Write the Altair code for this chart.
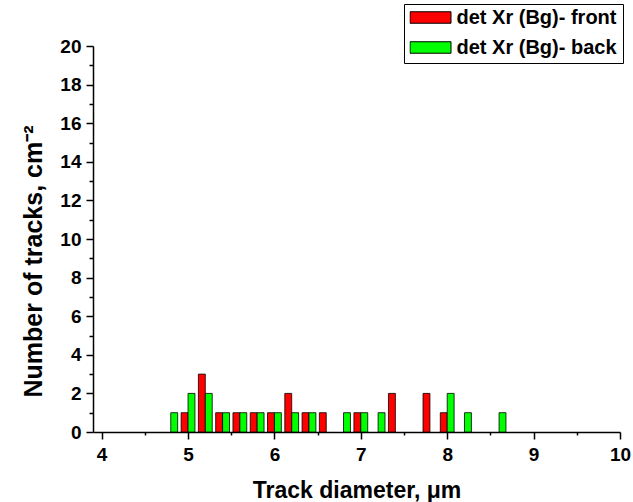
import altair as alt
import pandas as pd

FRONT = "det Xr (Bg)- front"
BACK = "det Xr (Bg)- back"

# Histogram bins (track diameter, µm) and counts per side of the detector
front_diam = [5.0, 5.2, 5.4, 5.6, 5.8, 6.0, 6.2, 6.4, 6.6, 7.0, 7.4, 7.8, 8.0]
front_count = [1, 3, 1, 1, 1, 1, 2, 1, 1, 1, 2, 2, 1]
back_diam = [4.8, 5.0, 5.2, 5.4, 5.6, 5.8, 6.0, 6.2, 6.4, 6.8, 7.0, 7.2, 8.0, 8.2, 8.6]
back_count = [1, 2, 2, 1, 1, 1, 1, 1, 1, 1, 1, 1, 2, 1, 1]

# Axis tick values
x_major = [4, 5, 6, 7, 8, 9, 10]
x_minor = [4.5, 5.5, 6.5, 7.5, 8.5, 9.5]
y_major = [0, 2, 4, 6, 8, 10, 12, 14, 16, 18, 20]
y_minor = [1, 3, 5, 7, 9, 11, 13, 15, 17, 19]

df = pd.DataFrame({
    "diameter": front_diam + back_diam,
    "count": front_count + back_count,
    "series": [FRONT] * len(front_diam) + [BACK] * len(back_diam),
})

BAR_W = 0.08  # each series' bar sits on one side of the bin centre
FONT = "Liberation Sans"

base = alt.Chart(df).transform_calculate(
    x0=f"datum.series == '{FRONT}' ? datum.diameter - {BAR_W} : datum.diameter",
    x1=f"datum.series == '{FRONT}' ? datum.diameter : datum.diameter + {BAR_W}",
)

xscale = alt.Scale(domain=[3.9, 10], nice=False, zero=False)
yscale = alt.Scale(domain=[0, 20], nice=False)

bars = base.mark_bar(stroke="black", strokeWidth=0.8).encode(
    x=alt.X("x0:Q", scale=xscale,
            axis=alt.Axis(values=x_major, orient="bottom", format="d",
                          title="Track diameter, μm", titleFontSize=23,
                          tickSize=7, labelPadding=6, titlePadding=15,
                          labelFlush=False)),
    x2="x1:Q",
    y=alt.Y("count:Q", scale=yscale,
            axis=alt.Axis(values=y_major, orient="left", format="d",
                          title="Number of tracks, cm⁻²", titleFontSize=25,
                          titleY=215, tickSize=7, labelPadding=5,
                          titlePadding=13, labelFlush=False)),
    y2=alt.datum(0),
    color=alt.Color(
        "series:N",
        scale=alt.Scale(domain=[FRONT, BACK], range=["#FF0000", "#00FF00"]),
        legend=alt.Legend(
            title=None, orient="none", legendX=311, legendY=-42,
            symbolType="M-1,-0.28H1V0.28H-1Z", symbolSize=1681,
            symbolStrokeColor="black", symbolStrokeWidth=1, symbolOpacity=1,
            clipHeight=16, rowPadding=10, labelOffset=5, labelLimit=300,
            labelFont=FONT, labelFontSize=20, labelFontWeight="bold",
            labelColor="black", strokeColor="black", fillColor="white",
            padding=5.5,
        ),
    ),
)

# Invisible copy of the bars that carries the minor tick axes
minor = base.mark_bar(opacity=0).encode(
    x=alt.X("x0:Q", scale=xscale,
            axis=alt.Axis(values=x_minor, orient="bottom", labels=False,
                          domain=False, tickSize=3, title="")),
    x2="x1:Q",
    y=alt.Y("count:Q", scale=yscale,
            axis=alt.Axis(values=y_minor, orient="left", labels=False,
                          domain=False, tickSize=4, title="")),
    y2=alt.datum(0),
)

chart = alt.layer(bars, minor).resolve_axis(
    x="independent", y="independent"
).properties(
    width=527, height=386,
    padding={"left": 93, "top": 46, "right": 13, "bottom": 70},
    autosize=alt.AutoSizeParams(type="none"),
).configure_view(stroke=None).configure_axis(
    grid=False,
    labelFont=FONT, labelFontSize=19, labelFontWeight="bold", labelColor="black",
    titleFont=FONT, titleFontWeight="bold", titleColor="black",
    domainColor="black", domainWidth=1.5, tickColor="black", tickWidth=1.5,
)

chart.save("out.html", embed_options={"renderer": "svg", "actions": False})
